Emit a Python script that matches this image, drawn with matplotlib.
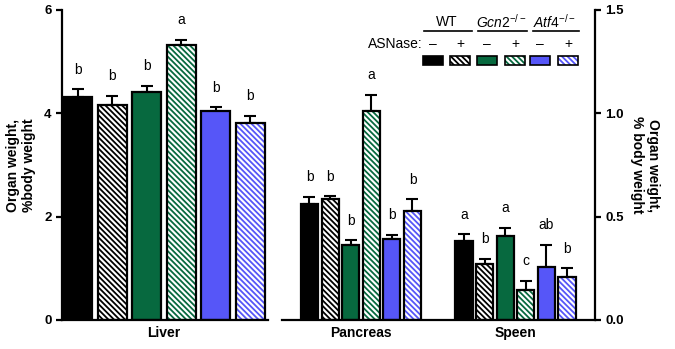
import matplotlib.pyplot as plt
from matplotlib.patches import Rectangle
from matplotlib.lines import Line2D

plt.rcParams['font.family'] = ['Liberation Sans', 'DejaVu Sans']
plt.rcParams['mathtext.fontset'] = 'custom'
plt.rcParams['mathtext.it'] = 'Liberation Sans:italic'
plt.rcParams['mathtext.rm'] = 'Liberation Sans'
plt.rcParams['hatch.linewidth'] = 1.3

# data (mean, error = SEM upward)
liver_mean = [4.32, 4.16, 4.41, 5.33, 4.04, 3.81]
liver_err = [0.15, 0.18, 0.12, 0.09, 0.08, 0.14]
liver_letters = ['b', 'b', 'b', 'a', 'b', 'b']

pancreas_mean = [0.561, 0.585, 0.363, 1.013, 0.392, 0.529]
pancreas_err = [0.036, 0.015, 0.024, 0.077, 0.021, 0.056]
pancreas_letters = ['b', 'b', 'b', 'a', 'b', 'b']

speen_mean = [0.382, 0.271, 0.405, 0.145, 0.255, 0.207]
speen_err = [0.033, 0.026, 0.042, 0.044, 0.108, 0.043]
speen_letters = ['a', 'b', 'a', 'c', 'ab', 'b']

genotypes = ['WT', r'$\mathit{Gcn2}^{-/-}$', r'$\mathit{Atf4}^{-/-}$']
treatments = ['\u2013', '+']
organs = ['Liver', 'Pancreas', 'Speen']

colors = ['#000000', '#07693f', '#5656f8']
bar_colors = [colors[i // 2] for i in range(6)]
bar_hatched = [i % 2 == 1 for i in range(6)]
HATCH = '\\\\\\\\\\\\'

W, H = 675, 349
fig = plt.figure(figsize=(W / 100, H / 100), dpi=100)


def fx(x):
    return x / W


def fy(y):
    return 1 - y / H


def draw_bars(ax, xs, means, errs, letters, width):
    for x, m, c, h in zip(xs, means, bar_colors, bar_hatched):
        if h:
            ax.bar(x, m, width, color='white', edgecolor=c, hatch=HATCH, linewidth=0, zorder=2)
            ax.bar(x, m, width, fill=False, edgecolor='black', linewidth=1.6, zorder=3)
        else:
            ax.bar(x, m, width, color=c, edgecolor='black', linewidth=1.6, zorder=2)
    ax.errorbar(xs, means, yerr=[[0] * len(errs), errs], fmt='none', ecolor='black',
                elinewidth=1.5, capsize=4, capthick=1.5, zorder=1)
    for x, m, e, t in zip(xs, means, errs, letters):
        ax.annotate(t, (x, m + e), xytext=(0, 9), textcoords='offset points',
                    ha='center', va='bottom', fontsize=10)


# left panel: liver
ax1 = fig.add_axes([fx(62), fy(320), fx(268 - 62), fy(10) - fy(320)])
xs1 = list(range(6))
draw_bars(ax1, xs1, liver_mean, liver_err, liver_letters, 0.84)
ax1.set_xlim(-0.45, 5.51)
ax1.set_ylim(0, 6)
ax1.set_yticks([0, 2, 4, 6])
ax1.set_xticks([2.5])
ax1.set_xticklabels([organs[0]], fontweight='bold', fontsize=10)
ax1.tick_params(axis='x', length=0, pad=4)
ax1.tick_params(axis='y', width=1.6, length=4, labelsize=9.5)
for lab in ax1.get_yticklabels():
    lab.set_fontweight('bold')
ax1.spines[['top', 'right']].set_visible(False)
for s in ['left', 'bottom']:
    ax1.spines[s].set_linewidth(1.6)
ax1.set_ylabel('Organ weight,\n%body weight', fontweight='bold', fontsize=10, labelpad=6)

# right panel: pancreas + speen
ax2 = fig.add_axes([fx(282), fy(320), fx(595 - 282), fy(10) - fy(320)])
xs_p = list(range(6))
xs_s = [x + 7.5 for x in range(6)]
draw_bars(ax2, xs_p, pancreas_mean, pancreas_err, pancreas_letters, 0.83)
draw_bars(ax2, xs_s, speen_mean, speen_err, speen_letters, 0.83)
ax2.set_xlim(-1.335, 13.86)
ax2.set_ylim(0, 1.5)
ax2.set_yticks([0, 0.5, 1.0, 1.5])
ax2.set_yticklabels(['0.0', '0.5', '1.0', '1.5'])
ax2.set_xticks([2.5, 10.0])
ax2.set_xticklabels(organs[1:], fontweight='bold', fontsize=10)
ax2.tick_params(axis='x', length=0, pad=4)
ax2.yaxis.tick_right()
ax2.yaxis.set_label_position('right')
ax2.tick_params(axis='y', width=1.6, length=4, labelsize=9.5)
for lab in ax2.get_yticklabels():
    lab.set_fontweight('bold')
ax2.spines[['top', 'left']].set_visible(False)
for s in ['right', 'bottom']:
    ax2.spines[s].set_linewidth(1.6)
ax2.set_ylabel('Organ weight,\n% body weight', fontweight='bold', fontsize=10,
               rotation=270, labelpad=26)

# custom legend
group_centers = [447, 501, 554]
sign_x = [[433, 460], [487, 515], [540, 568]]
underline = [(424, 472), (478, 527), (533, 579)]
for g, cx, (u0, u1), sx, c in zip(genotypes, group_centers, underline, sign_x, colors):
    fig.text(fx(cx), fy(22), g, ha='center', va='center', fontsize=10)
    fig.add_artist(Line2D([fx(u0), fx(u1)], [fy(31), fy(31)], color='black', lw=1.2))
    for k, (x, t) in enumerate(zip(sx, treatments)):
        fig.text(fx(x), fy(44), t, ha='center', va='center', fontsize=10)
        rx, ry, rw, rh = fx(x - 10), fy(65), fx(20), fy(56) - fy(65)
        if k == 1:
            fig.add_artist(Rectangle((rx, ry), rw, rh, transform=fig.transFigure,
                                     facecolor='white', edgecolor=c, hatch=HATCH, lw=0))
            fig.add_artist(Rectangle((rx, ry), rw, rh, transform=fig.transFigure,
                                     fill=False, edgecolor='black', lw=1.2))
        else:
            fig.add_artist(Rectangle((rx, ry), rw, rh, transform=fig.transFigure,
                                     facecolor=c, edgecolor='black', lw=1.2))
fig.text(fx(423), fy(44), 'ASNase:', ha='right', va='center', fontsize=10)

fig.savefig('out.png', dpi=100)
